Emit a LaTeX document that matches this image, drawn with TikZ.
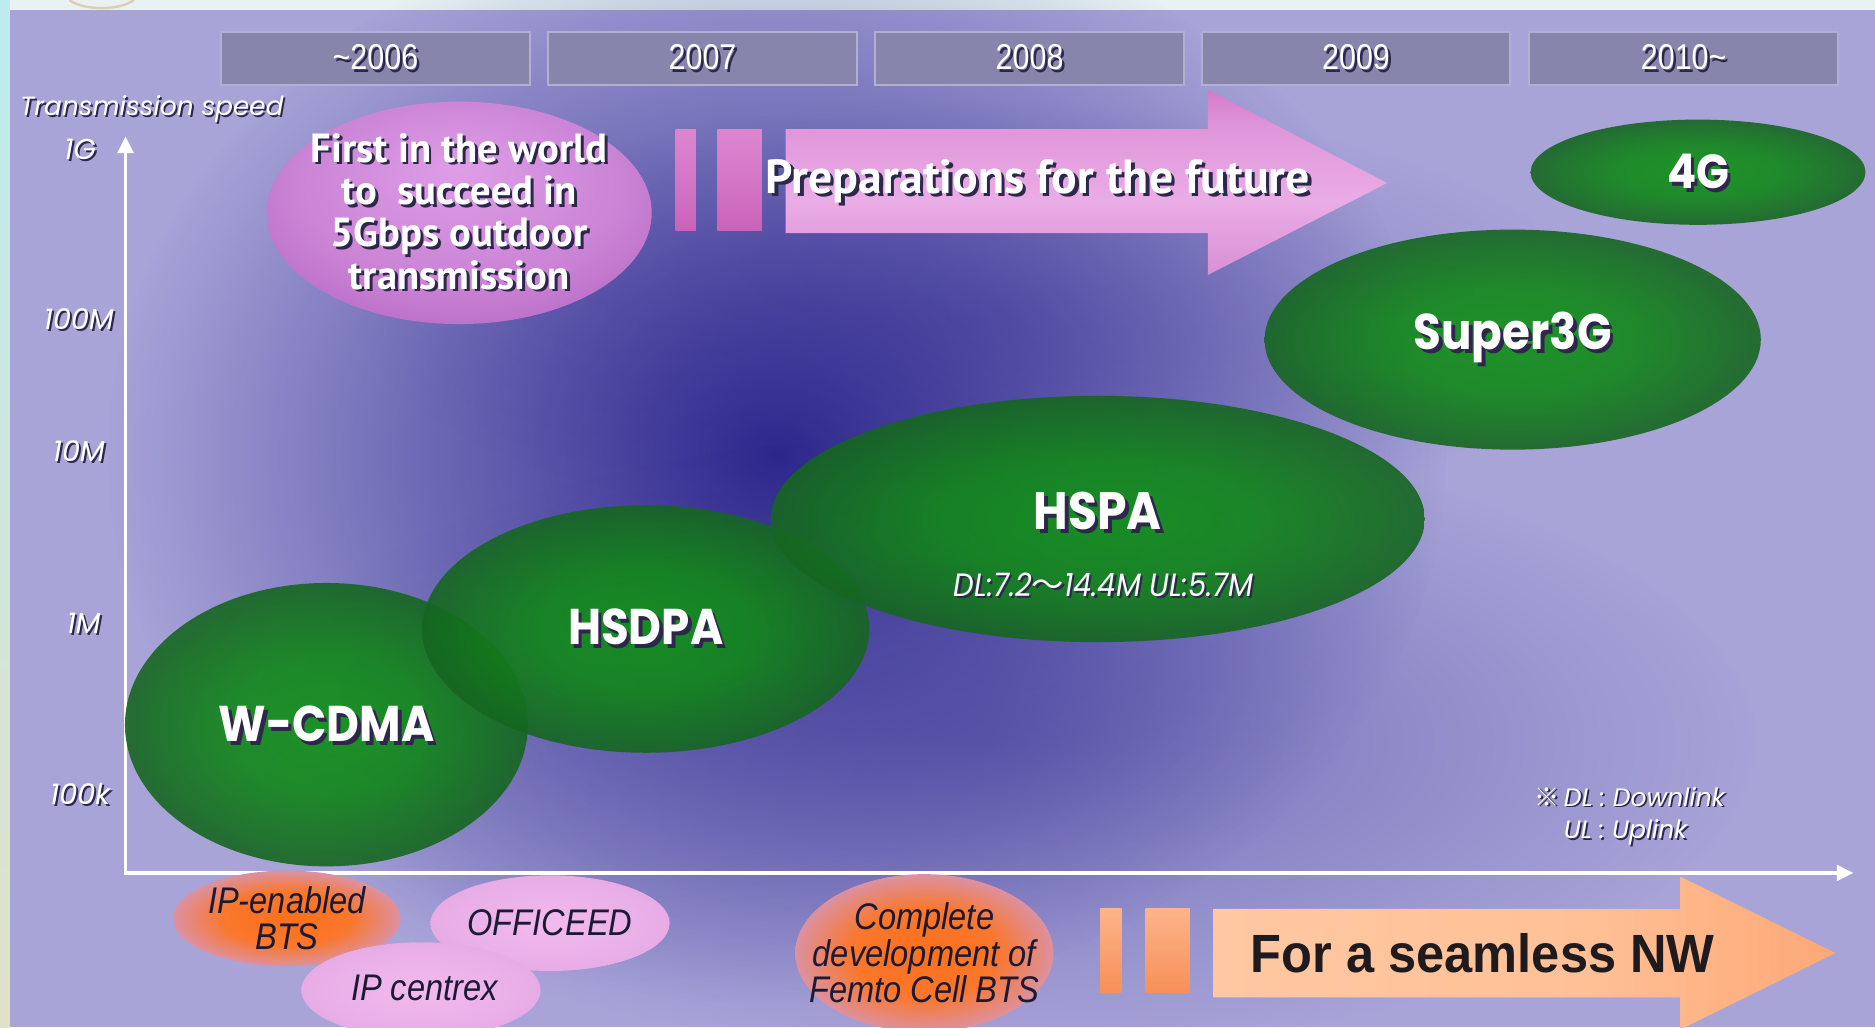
\documentclass[tikz,border=0pt]{standalone}
\usepackage{fontspec}
\setmainfont{Liberation Sans}
\newfontfamily\pop{Poppins}
\newfontfamily\popc[FakeStretch=0.9]{Poppins}
\newfontfamily\yearf[FakeStretch=0.85]{Liberation Sans}
\newfontfamily\ptf{PT Sans}
\newfontfamily\botf[FakeStretch=0.88]{Liberation Sans}
\newfontfamily\seamf[FakeStretch=0.94]{Liberation Sans}
\newfontfamily\cjkf{Noto Sans CJK JP}
\usetikzlibrary{shapes.geometric,arrows.meta,fadings}

\definecolor{panel}{RGB}{168,164,216}
\definecolor{topstrip}{RGB}{232,242,242}
\definecolor{stripA}{RGB}{190,235,240}
\definecolor{stripB}{RGB}{70,175,215}
\definecolor{stripC}{RGB}{225,225,200}
\definecolor{glowc}{RGB}{40,34,138}
\definecolor{yearbox}{RGB}{136,133,172}
\definecolor{yearedge}{RGB}{178,175,210}
\definecolor{shadowc}{RGB}{45,40,75}
\definecolor{gC}{RGB}{16,146,22}
\definecolor{gM}{RGB}{22,104,34}
\definecolor{gE}{RGB}{25,72,38}
\definecolor{gEd}{RGB}{18,52,28}
\definecolor{pA}{RGB}{222,158,230}
\definecolor{pB}{RGB}{182,102,196}
\definecolor{pC}{RGB}{152,76,166}
\definecolor{orA}{RGB}{252,112,28}
\definecolor{orB}{RGB}{242,140,92}
\definecolor{orC}{RGB}{212,152,192}
\definecolor{pkA}{RGB}{242,186,238}
\definecolor{pkB}{RGB}{228,168,228}
\definecolor{darktxt}{RGB}{28,26,52}
\definecolor{seamtxt}{RGB}{30,26,30}
\definecolor{paA}{RGB}{196,140,208}
\definecolor{paB}{RGB}{214,140,210}
\definecolor{paC}{RGB}{234,172,230}
\definecolor{paD}{RGB}{224,150,218}
\definecolor{paE}{RGB}{205,108,190}
\definecolor{paF}{RGB}{180,66,160}
\definecolor{pbA}{RGB}{190,78,172}
\definecolor{pbB}{RGB}{212,118,198}
\definecolor{pbC}{RGB}{230,150,218}
\definecolor{oaA}{RGB}{255,207,172}
\definecolor{oaB}{RGB}{255,192,150}
\definecolor{oaC}{RGB}{253,168,118}
\definecolor{oaD}{RGB}{246,132,72}
\definecolor{obA}{RGB}{245,125,65}
\definecolor{obB}{RGB}{255,198,162}
\definecolor{arcc}{RGB}{222,205,178}

\pgfdeclareradialshading{greenball}{\pgfpoint{0bp}{0bp}}{color(0bp)=(gC); color(12bp)=(gC!75!gM); color(30bp)=(gM!50!gE); color(44bp)=(gE); color(50bp)=(gEd)}
\pgfdeclareradialshading{purpleball}{\pgfpoint{0bp}{10bp}}{color(0bp)=(pA); color(22bp)=(pA!50!pB); color(40bp)=(pB!55!pC); color(50bp)=(pC)}
\pgfdeclareradialshading{orangeblob}{\pgfpoint{0bp}{0bp}}{color(0bp)=(orA); color(14bp)=(orA!75!orB); color(28bp)=(orC); color(40bp)=(orC!45!panel); color(50bp)=(panel)}
\pgfdeclareradialshading{pinkblob}{\pgfpoint{0bp}{0bp}}{color(0bp)=(pkA); color(32bp)=(pkB); color(43bp)=(pkB!60!panel); color(50bp)=(panel)}
\pgfdeclareverticalshading{pinkarrow}{100bp}{color(0bp)=(paA); color(22bp)=(paB); color(45bp)=(paC); color(65bp)=(paD); color(80bp)=(paE); color(100bp)=(paF)}
\pgfdeclareverticalshading{pinkbar}{100bp}{color(0bp)=(pbA); color(50bp)=(pbB); color(100bp)=(pbC)}
\pgfdeclarehorizontalshading{orangearrow}{100bp}{color(0bp)=(oaA); color(55bp)=(oaB); color(75bp)=(oaC); color(100bp)=(oaD)}
\pgfdeclareverticalshading{orangebar}{100bp}{color(0bp)=(obA); color(100bp)=(obB)}

\tikzfading[name=softglow, inner color=transparent!0, outer color=transparent!100]

\newcommand\shd[1]{\leavevmode\rlap{\kern.07em\raisebox{-.07em}{\color{shadowc}#1}}#1}

\begin{document}
\begin{tikzpicture}[x=0.5pt,y=-0.5pt,
  yearbox/.style={draw=yearedge, fill=yearbox, line width=0.8pt, minimum width=129pt, minimum height=22pt, inner sep=0pt, text=white, font=\yearf\fontsize{15}{18}\selectfont},
  axislbl/.style={text=white, font=\pop\itshape\fontsize{12}{14}\selectfont, inner sep=0pt},
  ball/.style={ellipse, shading=greenball, fill opacity=0.9, draw=none, inner sep=0pt},
  balltxt/.style={text=white, text opacity=1, font=\popc\bfseries\fontsize{21}{24}\selectfont, inner sep=0pt},
  blob/.style={ellipse, draw=none, inner sep=0pt},
  blobtxt/.style={text=darktxt, font=\botf\itshape\fontsize{15.5}{15.2}\selectfont, align=center, inner sep=0pt},
  axisline/.style={white, line width=1.6pt, line cap=rect, -{Triangle[length=7pt,width=6.5pt]}},
]
\useasboundingbox (0,0) rectangle (1568,859);
% background
\fill[topstrip] (0,0) rectangle (1568,859);
\shade[top color=stripA, middle color=stripB, bottom color=stripC] (0,0) rectangle (8,859);
\draw[arcc, line width=1pt] (58,0) .. controls (70,9) and (100,9) .. (112,0);
\fill[panel] (8,8) rectangle (1568,859);
% dark glow
\fill[glowc, fill opacity=0.95, path fading=softglow] (650,380) ellipse [x radius=560, y radius=460];
\fill[glowc, fill opacity=0.4, path fading=softglow] (830,620) ellipse [x radius=640, y radius=260];
\fill[glowc, fill opacity=0.3, path fading=softglow] (820,265) ellipse [x radius=520, y radius=180];

% year boxes
\node[yearbox] (y06) at (314,49) {\shd{\textasciitilde2006}};
\node[yearbox] (y07) at (587.5,49) {\shd{2007}};
\node[yearbox] (y08) at (861,49) {\shd{2008}};
\node[yearbox] (y09) at (1134,49) {\shd{2009}};
\node[yearbox] (y10) at (1408,49) {\shd{2010\textasciitilde}};

% axes
\coordinate (org) at (105,730);
\coordinate (ytip) at (105,114);
\coordinate (xtip) at (1550,730);
\draw[axisline] (org) -- (ytip);
\draw[axisline] (org) -- (xtip);
\node[axislbl, font=\pop\itshape\fontsize{11}{13}\selectfont] (tspeed) at (127,92) {\shd{Transmission speed}};
\node[axislbl] (l1g) at (67,126) {\shd{1G}};
\node[axislbl] (l100m) at (66,268) {\shd{100M}};
\node[axislbl] (l10m) at (66,378) {\shd{10M}};
\node[axislbl] (l1m) at (70,522) {\shd{1M}};
\node[axislbl] (l100k) at (67,665) {\shd{100k}};

% purple bubble
\node[ellipse, shading=purpleball, minimum width=161pt, minimum height=93pt, inner sep=0pt] (first) at (384,178) {};
\node[text=white, font=\ptf\bfseries\fontsize{17}{17.7}\selectfont, align=center, inner sep=0pt] (firsttxt) at (first.center) {\shd{First in the world}\\\shd{to\ \ succeed in}\\\shd{5Gbps outdoor}\\\shd{transmission}};

% pink arrow
\shade[shading=pinkbar] (565,108) rectangle (582,193);
\shade[shading=pinkbar] (600,108) rectangle (637,193);
\shade[shading=pinkarrow] (657,108) -- (1010,108) -- (1010,75) -- (1160,153) -- (1010,230) -- (1010,195) -- (657,195) -- cycle;
\node[text=white, font=\ptf\bfseries\fontsize{20}{22}\selectfont, inner sep=0pt] (prep) at (868,153) {\shd{Preparations for the future}};

% green bubbles
\node[ball, minimum width=168.5pt, minimum height=118.5pt] (wcdma) at (273,606) {};
\node[ball, minimum width=187pt, minimum height=103.5pt] (hsdpa) at (540,526) {};
\node[ball, minimum width=273.5pt, minimum height=103pt] (hspa) at (918,434) {};
\node[ball, minimum width=207.5pt, minimum height=92pt] (super) at (1265,284) {};
\node[ball, minimum width=140pt, minimum height=44pt] (g4) at (1420,144) {};

\node[balltxt] (wcdmatxt) at (273,607) {\shd{W-CDMA}};
\node[balltxt] (hsdpatxt) at (540,526) {\shd{HSDPA}};
\node[balltxt, font=\popc\bfseries\fontsize{22}{24}\selectfont] (hspatxt) at (918,429) {\shd{HSPA}};
\node[text=white, font=\popc\itshape\fontsize{13.5}{15}\selectfont, inner sep=0pt] (hspasub) at (923,490) {\shd{DL:7.2{\cjkf ～}14.4M UL:5.7M}};
\node[balltxt] (supertxt) at (1265,284) {\shd{Super3G}};
\node[balltxt, font=\popc\bfseries\fontsize{20}{24}\selectfont] (g4txt) at (1420,145) {\shd{4G}};

% footnote
\node[anchor=west, text=white, font=\pop\itshape\fontsize{10.5}{13.5}\selectfont, align=left, inner sep=0pt] (note) at (1283,683) {\shd{{\cjkf ※}\,DL : Downlink}\\\shd{\phantom{{\cjkf ※}\,}UL : Uplink}};

% bottom bubbles
\node[blob, shading=orangeblob, minimum width=95pt, minimum height=40pt] (ipbts) at (240,768) {};
\node[blob, shading=pinkblob, minimum width=100pt, minimum height=40pt] (officeed) at (460,772) {};
\node[blob, shading=pinkblob, minimum width=100pt, minimum height=40pt] (ipcentrex) at (352,828) {};
\node[blob, shading=orangeblob, minimum width=108pt, minimum height=66pt] (femto) at (773,797) {};
\node[blobtxt] (ipbtstxt) at (ipbts.center) {IP-enabled\\BTS};
\node[blobtxt] (officeedtxt) at (officeed.center) {OFFICEED};
\node[blobtxt] (ipcentrextxt) at (355,826) {IP centrex};
\node[blobtxt] (femtotxt) at (femto.center) {Complete\\development of\\Femto Cell BTS};

% orange arrow
\shade[shading=orangebar] (920,760) rectangle (938,830);
\shade[shading=orangebar] (958,760) rectangle (995,830);
\shade[shading=orangearrow] (1015,760) -- (1405,760) -- (1405,733) -- (1535,797) -- (1405,861) -- (1405,834) -- (1015,834) -- cycle;
\node[text=seamtxt, font=\seamf\bfseries\fontsize{22.5}{26}\selectfont, inner sep=0pt] (seam) at (1240,797) {For a seamless NW};
\end{tikzpicture}
\end{document}
